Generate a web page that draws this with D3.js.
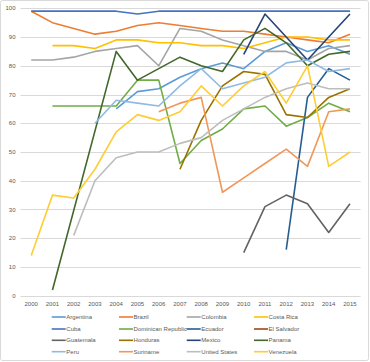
<!DOCTYPE html>
<html>
<head>
<meta charset="utf-8">
<script src="https://cdn.jsdelivr.net/npm/d3@7"></script>
<style>
  body { margin: 0; background: #fff; }
  svg { display: block; font-family: "Liberation Sans Narrow", "Liberation Sans", Arial, sans-serif; }
</style>
</head>
<body>
<svg id="chart" width="370" height="362"></svg>
<script>
// years on the category axis
const years = ["2000", "2001", "2002", "2003", "2004", "2005", "2006", "2007",
  "2008", "2009", "2010", "2011", "2012", "2013", "2014", "2015"];

const yTicks = [0, 10, 20, 30, 40, 50, 60, 70, 80, 90, 100];

const countries = ["Argentina", "Brazil", "Colombia", "Costa Rica", "Cuba",
  "Dominican Republic", "Ecuador", "El Salvador", "Guatemala", "Honduras",
  "Mexico", "Panama", "Peru", "Suriname", "United States", "Venezuela"];

const colors = ["#5B9BD5", "#ED7D31", "#A5A5A5", "#FFC000", "#4472C4",
  "#70AD47", "#255E91", "#9E480E", "#636363", "#997300",
  "#264478", "#43682B", "#8FBBE3", "#F1975A", "#BDBDBD", "#FFCD33"];

const _ = null;
// one row per country, one value per year (null = no data)
const argentina = [_, _, _, _, 65, 71, 72, 76, 79, 81, 79, 85, 88, 85, 87, 84];
const brazil = [99, 95, 93, 91, 92, 94, 95, 94, 93, 92, 92, 91, 90, 89, 88, 91];
const colombia = [82, 82, 83, 85, 86, 87, 80, 93, 92, 89, 87, 85, 85, 82, 86, 87];
const costaRica = [_, 87, 87, 86, 89, 89, 88, 88, 87, 87, 86, 88, 90, 90, 89, 89];
const cuba = [99, 99, 99, 99, 99, 98, 99, 99, 99, 99, 99, 99, 99, 99, 99, 99];
const dominicanRep = [_, 66, 66, 66, 66, 75, 75, 46, 54, 58, 65, 66, 59, 62, 67, 64];
const ecuador = [_, _, _, _, _, _, _, _, _, _, _, _, 16, 69, 79, 75];
const elSalvador = [_, _, _, _, _, _, _, _, _, _, _, _, _, _, _, _];
const guatemala = [_, _, _, _, _, _, _, _, _, _, 15, 31, 35, 32, 22, 32];
const honduras = [_, _, _, _, _, _, _, 44, 61, 73, 78, 77, 63, 62, 69, 72];
const mexico = [_, _, _, _, _, _, _, _, _, _, 84, 98, 90, 82, 90, 98];
const panama = [_, 2, _, _, 85, 75, 79, 83, 80, 78, 89, 93, 88, 80, 84, 85];
const peru = [_, _, _, 60, 68, 67, 66, 73, 79, 72, 74, 76, 81, 82, 78, 79];
const suriname = [_, _, _, _, _, _, 64, 67, 69, 36, 41, 46, 51, 45, 64, 65];
const unitedStates = [_, _, 21, 40, 48, 50, 50, 53, 55, 61, 65, 69, 72, 74, 72, 72];
const venezuela = [14, 35, 34, 44, 57, 63, 61, 64, 73, 66, 73, 78, 67, 80, 45, 50];

const values = [argentina, brazil, colombia, costaRica, cuba, dominicanRep,
  ecuador, elSalvador, guatemala, honduras, mexico, panama, peru, suriname,
  unitedStates, venezuela];

const series = countries.map((name, i) => ({
  name: name,
  color: colors[i],
  points: years.map((yr, j) => ({ year: yr, value: values[i][j] }))
    .filter(p => p.value !== null)
}));

const svg = d3.select("#chart");

// chart frame
svg.append("rect")
  .attr("x", 0.5).attr("y", 0.5)
  .attr("width", 368).attr("height", 360)
  .attr("rx", 2)
  .attr("fill", "#fff")
  .attr("stroke", "#d9d9d9");

const plot = { left: 20.6, right: 360.6, top: 8.3, bottom: 295.7 };

const x = d3.scalePoint()
  .domain(years)
  .range([plot.left, plot.right])
  .padding(0.5);

const y = d3.scaleLinear()
  .domain([0, 100])
  .range([plot.bottom, plot.top]);

// horizontal gridlines
svg.append("g")
  .selectAll("line")
  .data(yTicks)
  .join("line")
  .attr("x1", plot.left)
  .attr("x2", plot.right)
  .attr("y1", d => Math.round(y(d)) + 0.5)
  .attr("y2", d => Math.round(y(d)) + 0.5)
  .attr("stroke", "#d9d9d9")
  .attr("stroke-width", 1);

// y tick labels
svg.append("g")
  .selectAll("text")
  .data(yTicks)
  .join("text")
  .attr("x", 15.5)
  .attr("y", d => y(d))
  .attr("dy", "0.35em")
  .attr("text-anchor", "end")
  .attr("font-size", 6)
  .attr("fill", "#595959")
  .text(d => d);

// x tick labels
svg.append("g")
  .selectAll("text")
  .data(years)
  .join("text")
  .attr("x", d => x(d))
  .attr("y", 303.5)
  .attr("dy", "0.35em")
  .attr("text-anchor", "middle")
  .attr("font-size", 6)
  .attr("fill", "#595959")
  .text(d => d);

// lines
const line = d3.line()
  .x(d => x(d.year))
  .y(d => y(d.value));

svg.append("g")
  .selectAll("path")
  .data(series)
  .join("path")
  .attr("fill", "none")
  .attr("stroke", d => d.color)
  .attr("stroke-width", 1.6)
  .attr("stroke-linejoin", "round")
  .attr("d", d => line(d.points));

// legend, 4 columns x 4 rows
const legendCols = [51.7, 119, 186.7, 254];
const legendRows = [317, 329, 340.3, 351.7];

const legend = svg.append("g")
  .selectAll("g")
  .data(series)
  .join("g")
  .attr("transform", (d, i) =>
    `translate(${legendCols[i % 4]},${legendRows[Math.floor(i / 4)]})`);

legend.append("line")
  .attr("x1", 0).attr("x2", 14)
  .attr("stroke", d => d.color)
  .attr("stroke-width", 1.6);

legend.append("text")
  .attr("x", 14.6)
  .attr("dy", "0.35em")
  .attr("font-size", 6)
  .attr("fill", "#595959")
  .text(d => d.name);
</script>
</body>
</html>
